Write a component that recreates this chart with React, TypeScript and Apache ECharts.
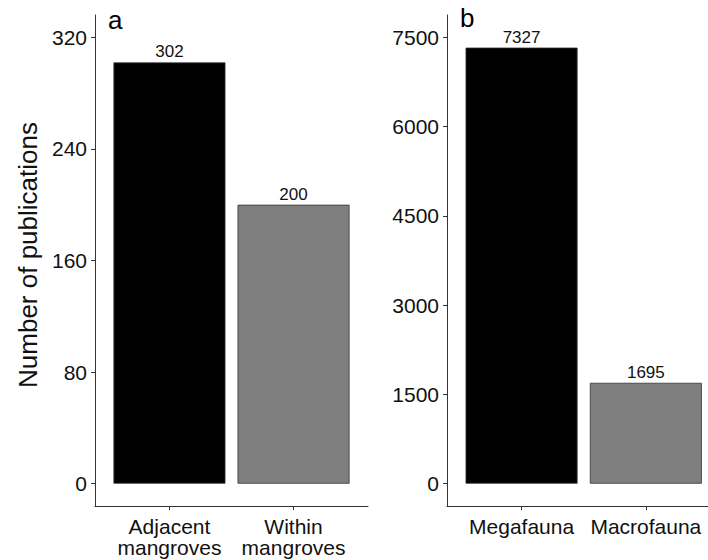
import React, { useEffect, useRef } from "react";
import * as echarts from "echarts";

const catsA = ["Adjacent\nmangroves", "Within\nmangroves"];
const valsA = [302, 200];
const ticksA = [0, 80, 160, 240, 320];

const catsB = ["Megafauna", "Macrofauna"];
const valsB = [7327, 1695];
const ticksB = [0, 1500, 3000, 4500, 6000, 7500];

const barColors = ["#000000", "#7f7f7f"];
const positions = [1, 2];

const FONT = "Liberation Sans, Arial, Helvetica, sans-serif";

export default function App() {
  const ref = useRef<HTMLDivElement>(null);
  useEffect(() => {
    if (!ref.current) return;
    const chart = echarts.init(ref.current, null, { renderer: "svg" });
    const axisLine = { show: true, onZero: false, lineStyle: { color: "#333", width: 1 } };
    const mkX = (idx: number, cats: string[], xmax: number) => ({
      type: "value",
      gridIndex: idx,
      min: 0.4,
      max: xmax,
      splitLine: { show: false },
      axisLine,
      axisTick: { show: true, length: 4, customValues: positions, lineStyle: { color: "#333" } },
      axisLabel: {
        customValues: positions,
        formatter: (v: number) => cats[Math.round(v) - 1] ?? "",
        color: "#111",
        fontSize: 21,
        fontFamily: FONT,
        lineHeight: 21,
        margin: 10,
        verticalAlign: "top",
      },
    });
    const mkY = (idx: number, ticks: number[]) => {
      const mx = ticks[ticks.length - 1];
      return {
        type: "value",
        gridIndex: idx,
        min: -mx * 0.05,
        max: mx * 1.05,
        splitLine: { show: false },
        axisLine,
        axisTick: { show: true, length: 4, customValues: ticks, lineStyle: { color: "#333" } },
        axisLabel: {
          customValues: ticks,
          formatter: (v: number) => String(v),
          color: "#111",
          fontSize: 21,
          fontFamily: FONT,
          margin: 8,
        },
      };
    };
    const mkSeries = (idx: number, vals: number[]) => ({
      type: "bar",
      xAxisIndex: idx,
      yAxisIndex: idx,
      barWidth: 112,
      data: vals.map((v, i) => ({
        value: [positions[i], v],
        itemStyle: { color: barColors[i], borderColor: "#333", borderWidth: 0.8 },
      })),
      label: {
        show: true,
        position: "top",
        distance: 2,
        color: "#111",
        fontSize: 17,
        fontFamily: FONT,
        formatter: (p: any) => String(p.value[1]),
      },
    });
    chart.setOption({
      animation: false,
      backgroundColor: "#fff",
      grid: [
        { left: 95, right: 340, top: 15, bottom: 54 },
        { left: 447, right: 0, top: 15, bottom: 54 },
      ],
      xAxis: [mkX(0, catsA, 2.6), mkX(1, catsB, 2.5)],
      yAxis: [mkY(0, ticksA), mkY(1, ticksB)],
      series: [mkSeries(0, valsA), mkSeries(1, valsB)],
      graphic: [
        { type: "text", left: 108, top: 7, style: { text: "a", fontSize: 26, fontFamily: FONT, fill: "#000" } },
        { type: "text", left: 460, top: 5, style: { text: "b", fontSize: 26, fontFamily: FONT, fill: "#000" } },
        {
          type: "text",
          x: 28,
          y: 255,
          rotation: Math.PI / 2,
          style: {
            text: "Number of publications",
            fontSize: 26,
            fontFamily: FONT,
            fill: "#111",
            align: "center",
            verticalAlign: "middle",
          },
        },
      ],
    });
    return () => chart.dispose();
  }, []);
  return (
    <div
      ref={ref}
      style={{ position: "fixed", left: 0, top: 0, width: 708, height: 560, background: "#fff" }}
    />
  );
}
